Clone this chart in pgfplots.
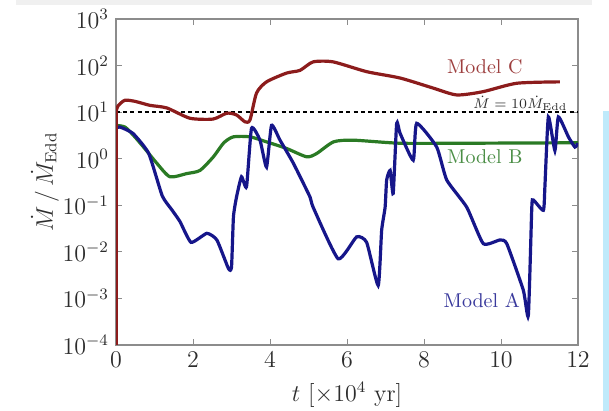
\documentclass[border=0pt]{standalone}
\usepackage{pgfplots}
\pgfplotsset{compat=1.18}
\definecolor{mC}{RGB}{140,28,28}
\definecolor{mB}{RGB}{42,122,36}
\definecolor{mA}{RGB}{22,22,138}
\definecolor{frame}{RGB}{140,140,140}
\definecolor{tick}{RGB}{45,45,45}
\begin{document}
\begin{tikzpicture}
\path[use as bounding box] (0,0) rectangle (304.5pt,205.5pt);
\fill[white] (0,0) rectangle (304.5pt,205.5pt);
\fill[black!6] (8pt,203pt) rectangle (296pt,205.5pt);
\fill[cyan!25] (301.5pt,0) rectangle (304.5pt,150pt);
\begin{axis}[
  at={(58pt,33pt)}, anchor=south west,
  scale only axis, width=231pt, height=163pt,
  xmin=0, xmax=12, ymode=log, ymin=1e-4, ymax=1e3,
  xtick={0,2,4,6,8,10,12},
  ytick={1e-4,1e-3,1e-2,1e-1,1,1e1,1e2,1e3},
  yminorticks=false, xminorticks=false,
  axis line style={frame, line width=0.7pt},
  tick style={frame, line width=0.5pt},
  major tick length=3pt,
  tick label style={font=\large, text=tick},
  xlabel={$t$ [$\times 10^4$ yr]},
  ylabel={$\dot M\,/\,\dot M_{\mathrm{Edd}}$},
  label style={font=\large, text=tick},
  xlabel style={at={(rel axis cs:0.5,-0.153)}, anchor=center},
  ylabel style={at={(rel axis cs:-0.154,0.5)}, anchor=center},
  clip=true,
]
\addplot[black, line width=1pt, dash pattern=on 2pt off 1.6pt] coordinates {(0,10) (12,10)};
\addplot[mB, line width=1.6pt, smooth, tension=0.4] coordinates {
(0,5.2) (0.23,4.8) (0.45,3.2) (0.71,1.8) (1.06,0.8) (1.40,0.41) (1.84,0.48) (2.18,0.56)
(2.53,1.1) (2.8,2.2) (3.05,2.95) (3.48,2.95) (3.91,2.3) (4.43,1.66) (4.95,1.1)
(5.21,1.29) (5.65,2.3) (6.16,2.5) (7.38,2.15) (9,2.15) (12,2.2)
};
\addplot[mA, line width=1.6pt, smooth, tension=0.3] coordinates {
(0,4.5) (0.1,4.8) (0.44,3.5) (0.85,1.3) (1.2,0.16) (1.45,0.08) (1.66,0.045) (1.95,0.016)
(2.36,0.025) (2.62,0.018) (2.92,0.0044) (3.0,0.0047) (3.05,0.056) (3.13,0.15)
(3.26,0.41) (3.39,0.25) (3.52,4.5) (3.74,2.5) (3.91,0.66) (4.04,5.2) (4.26,2.5)
(4.61,0.79) (5.04,0.15) (5.12,0.091) (5.77,0.0071) (6.25,0.021) (6.51,0.016)
(6.81,0.0019) (6.90,0.029) (6.99,0.091) (7.03,0.35) (7.12,0.56) (7.20,0.18)
(7.29,5.75) (7.38,3.5) (7.72,0.93) (7.81,5.75) (8.33,1.78) (8.59,0.35) (9.11,0.091)
(9.54,0.015) (9.97,0.018) (10.15,0.015) (10.58,0.0015) (10.71,0.00043) (10.80,0.091)
(10.84,0.13) (11.10,0.078) (11.14,0.25) (11.23,7.9) (11.40,1.5) (11.49,7.9)
(11.75,2.95) (11.92,1.78) (12,2.15)
};
\addplot[mC, line width=1.6pt] coordinates {(0,1e-4) (0,10)};
\addplot[mC, line width=1.6pt, smooth, tension=0.4] coordinates {
(0,10) (0.05,13.5) (0.23,18) (0.5,17) (0.88,14) (1.32,12.3) (1.92,7.4)
(2.52,7.1) (2.88,9.5) (3.13,8.7) (3.35,6.2) (3.48,6.8) (3.65,25.7) (3.91,44.7)
(4.43,69) (4.78,79) (5.12,120) (5.64,120) (6.51,74) (7.38,54) (8.23,33) (8.85,23.4)
(9.53,27.5) (10.41,41.7) (11.53,44.7)
};
\node[mC!85] at (axis cs:9.58,93) {Model C};
\node[mB!85] at (axis cs:9.58,1.1) {Model B};
\node[mA!85] at (axis cs:9.5,9e-4) {Model A};
\node[tick, font=\scriptsize, inner sep=0.5pt] at (axis cs:10.5,15.5) {$\dot M = 10\dot M_{\mathrm{Edd}}$};
\end{axis}
\end{tikzpicture}
\end{document}
